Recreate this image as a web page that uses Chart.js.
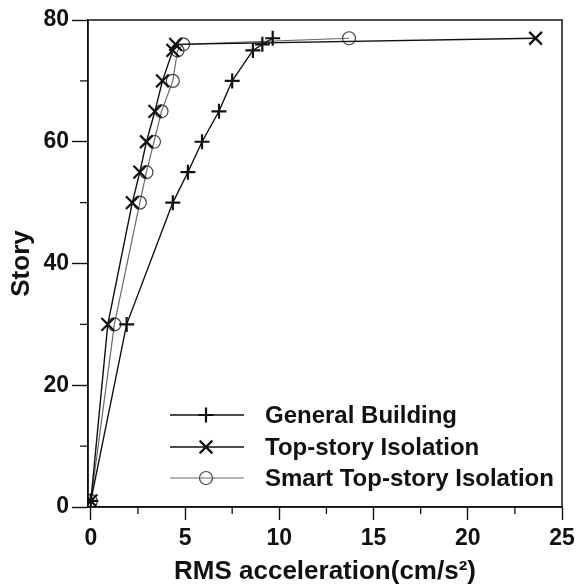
<!DOCTYPE html>
<html>
<head>
<meta charset="utf-8">
<script src="https://cdn.jsdelivr.net/npm/chart.js@4.4.1/dist/chart.umd.min.js"></script>
<style>
  html, body { margin: 0; padding: 0; background: #fff; }
  #wrap { width: 581px; height: 587px; }
</style>
</head>
<body>
<div id="wrap"><canvas id="c" width="581" height="587"></canvas></div>
<script>
// Story levels and RMS acceleration (cm/s^2) for each structural scheme
const stories = [1, 30, 50, 55, 60, 65, 70, 75, 76, 77];
const generalBuilding = [0, 1.9, 4.35, 5.15, 5.9, 6.8, 7.5, 8.6, 9.1, 9.65];
const topStoryIsolation = [0, 0.9, 2.2, 2.6, 2.95, 3.4, 3.8, 4.35, 4.5, 23.6];
const smartTopStoryIsolation = [0, 1.25, 2.6, 2.95, 3.35, 3.75, 4.35, 4.6, 4.9, 13.7];

const seriesLabels = ['General Building', 'Top-story Isolation', 'Smart Top-story Isolation'];
const xTickValues = [0, 5, 10, 15, 20, 25];
const yTickValues = [0, 20, 40, 60, 80];
const xMinorTicks = [2.5, 7.5, 12.5, 17.5, 22.5];
const yMinorTicks = [10, 30, 50, 70];

const FONT = '"Liberation Sans", Arial, sans-serif';

function toPoints(xs) {
  return xs.map((x, i) => ({ x: x, y: stories[i] }));
}

// Closed frame around the plot and short minor ticks on both axes
const framePlugin = {
  id: 'frame',
  afterDraw(chart) {
    const { ctx, chartArea: a, scales } = chart;
    ctx.save();
    ctx.strokeStyle = '#111';
    ctx.lineWidth = 1.5;
    ctx.strokeRect(a.left, a.top, a.right - a.left, a.bottom - a.top);
    ctx.lineWidth = 1.3;
    ctx.beginPath();
    yMinorTicks.forEach(v => {
      const y = scales.y.getPixelForValue(v);
      ctx.moveTo(a.left - 8, y);
      ctx.lineTo(a.left, y);
    });
    xMinorTicks.forEach(v => {
      const x = scales.x.getPixelForValue(v);
      ctx.moveTo(x, a.bottom);
      ctx.lineTo(x, a.bottom + 7);
    });
    ctx.stroke();
    ctx.restore();
  }
};

// Legend inside the plot: line sample with the series marker, then the label
const legendPlugin = {
  id: 'insideLegend',
  afterDatasetsDraw(chart) {
    const { ctx, chartArea: a } = chart;
    const x0 = a.left + 82, x1 = a.left + 156, xm = a.left + 118, xt = a.left + 177;
    const rows = [a.bottom - 92, a.bottom - 60, a.bottom - 29];
    ctx.save();
    chart.data.datasets.forEach((ds, i) => {
      const y = rows[i];
      ctx.strokeStyle = ds.borderColor;
      ctx.lineWidth = ds.borderWidth;
      ctx.beginPath();
      ctx.moveTo(x0, y);
      ctx.lineTo(x1, y);
      ctx.stroke();
      ctx.strokeStyle = ds.pointBorderColor;
      ctx.fillStyle = 'rgba(0,0,0,0)';
      ctx.lineWidth = ds.pointBorderWidth;
      Chart.helpers.drawPoint(ctx, { pointStyle: ds.pointStyle, radius: ds.pointRadius, borderWidth: ds.pointBorderWidth }, xm, y);
      ctx.fillStyle = '#111';
      ctx.font = 'bold 24px ' + FONT;
      ctx.textBaseline = 'middle';
      ctx.textAlign = 'left';
      ctx.fillText(ds.label, xt, y + 1);
    });
    ctx.restore();
  }
};

new Chart(document.getElementById('c'), {
  type: 'line',
  data: {
    datasets: [
      {
        label: seriesLabels[0],
        data: toPoints(generalBuilding),
        borderColor: '#111', borderWidth: 1.4,
        pointStyle: 'cross', pointRadius: 7.5, pointBorderWidth: 2.2,
        pointBorderColor: '#111', pointBackgroundColor: 'rgba(0,0,0,0)',
        fill: false, tension: 0
      },
      {
        label: seriesLabels[1],
        data: toPoints(topStoryIsolation),
        borderColor: '#111', borderWidth: 1.4,
        pointStyle: 'crossRot', pointRadius: 9, pointBorderWidth: 2.2,
        pointBorderColor: '#111', pointBackgroundColor: 'rgba(0,0,0,0)',
        fill: false, tension: 0
      },
      {
        label: seriesLabels[2],
        data: toPoints(smartTopStoryIsolation),
        borderColor: '#6a6a6a', borderWidth: 1.2,
        pointStyle: 'circle', pointRadius: 6.5, pointBorderWidth: 1.2,
        pointBorderColor: '#444', pointBackgroundColor: 'rgba(0,0,0,0)',
        fill: false, tension: 0
      }
    ]
  },
  options: {
    responsive: false,
    animation: false,
    events: [],
    layout: { padding: { top: 20, right: 19, left: 0, bottom: 0 } },
    plugins: { legend: { display: false }, tooltip: { enabled: false } },
    scales: {
      x: {
        type: 'linear',
        min: -0.15, max: 25,
        afterBuildTicks: s => { s.ticks = xTickValues.map(v => ({ value: v })); },
        afterFit: s => { s.height = 80; },
        grid: { drawOnChartArea: false, tickLength: 13, tickColor: '#111', tickWidth: 1.4 },
        border: { display: true, color: '#111', width: 1.5 },
        ticks: { color: '#111', padding: 5, font: { family: FONT, size: 23, weight: 'bold' } },
        title: {
          display: true, text: 'RMS acceleration(cm/s²)', color: '#111',
          font: { family: FONT, size: 26, weight: 'bold' }, padding: { top: 0, bottom: 0 }
        }
      },
      y: {
        type: 'linear',
        min: 0, max: 80,
        afterBuildTicks: s => { s.ticks = yTickValues.map(v => ({ value: v })); },
        afterFit: s => { s.width = 88; },
        grid: { drawOnChartArea: false, tickLength: 16, tickColor: '#111', tickWidth: 1.4 },
        border: { display: true, color: '#111', width: 1.5 },
        ticks: { color: '#111', padding: 3, font: { family: FONT, size: 23, weight: 'bold' } },
        title: {
          display: true, text: 'Story', color: '#111',
          font: { family: FONT, size: 26, weight: 'bold' }, padding: { top: 6, bottom: 0 }
        }
      }
    }
  },
  plugins: [framePlugin, legendPlugin]
});
</script>
</body>
</html>
